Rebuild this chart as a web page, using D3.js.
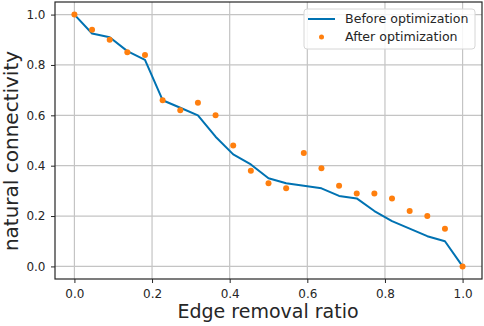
<!DOCTYPE html>
<html>
<head>
<meta charset="utf-8">
<script src="https://cdn.jsdelivr.net/npm/d3@7"></script>
<style>
  body { margin: 0; background: #fff; }
  text { font-family: "DejaVu Sans", sans-serif; fill: #262626; }
</style>
</head>
<body>
<svg id="chart" width="484" height="326"></svg>
<script>
// Data: 23 points, edge removal ratio k/22
const ratios = d3.range(23).map(k => k / 22)
const beforeOpt = [1.0, 0.925, 0.91, 0.855, 0.82, 0.66, 0.63, 0.60, 0.515, 0.445, 0.405, 0.35,
                   0.33, 0.32, 0.31, 0.28, 0.27, 0.22, 0.18, 0.15, 0.12, 0.10, 0.0]
const afterOpt = [1.0, 0.94, 0.90, 0.85, 0.84, 0.66, 0.62, 0.65, 0.60, 0.48, 0.38, 0.33,
                  0.31, 0.45, 0.39, 0.32, 0.29, 0.29, 0.27, 0.22, 0.20, 0.15, 0.0]
const xTicks = [0, 0.2, 0.4, 0.6, 0.8, 1.0]
const yTicks = [0, 0.2, 0.4, 0.6, 0.8, 1.0]
const legendLabels = ['Before optimization', 'After optimization']

const lineColor = '#0072b2'
const dotColor = '#ff7f0e'

const svg = d3.select('#chart')
const plotLeft = 55, plotRight = 482, plotTop = 2, plotBottom = 279

// Scales
const xScale = d3.scaleLinear().domain([-0.05, 1.05]).range([plotLeft, plotRight])
const yScale = d3.scaleLinear().domain([-0.05, 1.05]).range([plotBottom, plotTop])

// Grid
svg.append('g')
    .selectAll('line')
    .data(xTicks)
    .enter()
    .append('line')
    .attr('x1', d => xScale(d)).attr('x2', d => xScale(d))
    .attr('y1', plotTop).attr('y2', plotBottom)
    .style('stroke', '#c4c4c4').style('stroke-width', 1.2)

svg.append('g')
    .selectAll('line')
    .data(yTicks)
    .enter()
    .append('line')
    .attr('x1', plotLeft).attr('x2', plotRight)
    .attr('y1', d => yScale(d)).attr('y2', d => yScale(d))
    .style('stroke', '#c4c4c4').style('stroke-width', 1.2)

// Axes
const xAxis = svg.append('g')
    .attr('transform', 'translate(0,' + plotBottom + ')')
    .call(d3.axisBottom(xScale).tickValues(xTicks).tickFormat(d3.format('.1f')).tickSize(4).tickPadding(6))
const yAxis = svg.append('g')
    .attr('transform', 'translate(' + plotLeft + ',0)')
    .call(d3.axisLeft(yScale).tickValues(yTicks).tickFormat(d3.format('.1f')).tickSize(4).tickPadding(5.5))

for (const ax of [xAxis, yAxis]) {
    ax.select('.domain').remove()
    ax.selectAll('.tick line').style('stroke', '#262626').style('stroke-width', 1)
    ax.selectAll('.tick text').style('font-size', '12px').style('font-family', '"DejaVu Sans", sans-serif').style('fill', '#262626')
}

// Frame
svg.append('rect')
    .attr('x', plotLeft).attr('y', plotTop)
    .attr('width', plotRight - plotLeft).attr('height', plotBottom - plotTop)
    .style('fill', 'none').style('stroke', '#262626').style('stroke-width', 1.2)

// Line
const line = d3.line()
    .x((d, i) => xScale(ratios[i]))
    .y(d => yScale(d))

svg.append('path')
    .datum(beforeOpt)
    .attr('d', line)
    .style('fill', 'none')
    .style('stroke', lineColor)
    .style('stroke-width', 2)
    .style('stroke-linejoin', 'round')

// Dots
svg.append('g')
    .selectAll('circle')
    .data(afterOpt)
    .enter()
    .append('circle')
    .attr('cx', (d, i) => xScale(ratios[i]))
    .attr('cy', d => yScale(d))
    .attr('r', 3)
    .style('fill', dotColor)

// Axis labels
svg.append('text')
    .attr('x', 268)
    .attr('y', 318)
    .attr('text-anchor', 'middle')
    .style('font-size', '19px')
    .text('Edge removal ratio')

svg.append('text')
    .attr('transform', 'translate(17.5,151) rotate(-90)')
    .attr('text-anchor', 'middle')
    .style('font-size', '20px')
    .text('natural connectivity')

// Legend
const legend = svg.append('g').attr('transform', 'translate(304,9)')
legend.append('rect')
    .attr('width', 171).attr('height', 40).attr('rx', 3)
    .style('fill', 'rgba(255,255,255,0.85)')
    .style('stroke', '#d6d6d6')

legend.append('line')
    .attr('x1', 4).attr('x2', 31).attr('y1', 10).attr('y2', 10)
    .style('stroke', lineColor).style('stroke-width', 2)
legend.append('circle')
    .attr('cx', 17.5).attr('cy', 28).attr('r', 2.5)
    .style('fill', dotColor)

legend.selectAll('.legend-label')
    .data(legendLabels)
    .enter()
    .append('text')
    .attr('class', 'legend-label')
    .attr('x', 41)
    .attr('y', (d, i) => 14 + i * 18)
    .style('font-size', '12.6px')
    .text(d => d)
</script>
</body>
</html>
